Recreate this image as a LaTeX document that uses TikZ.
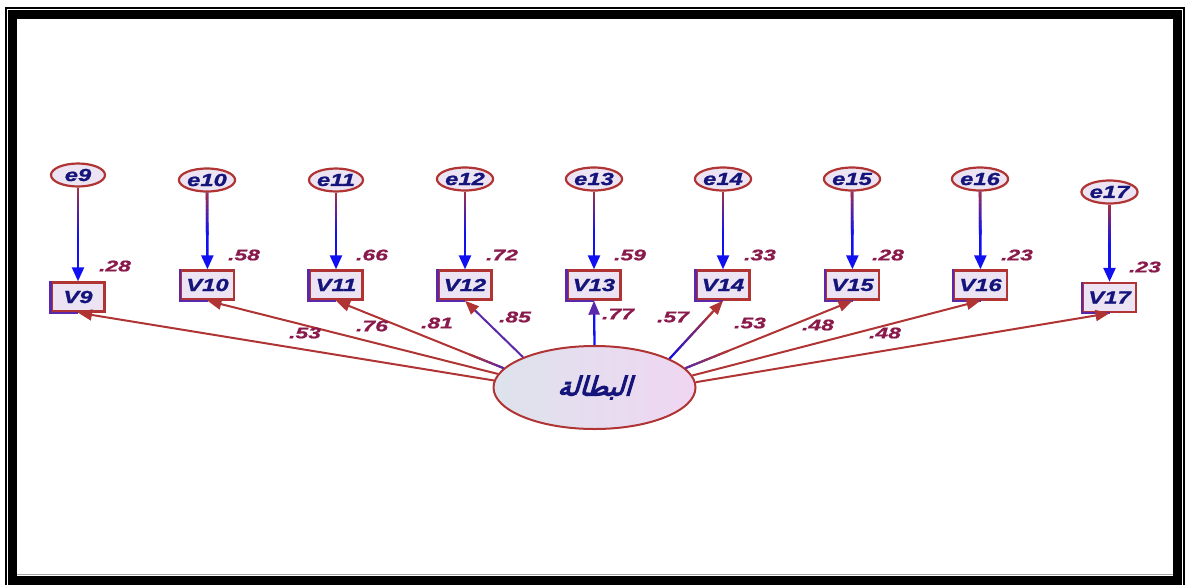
\documentclass[tikz,border=0pt]{standalone}
\usepackage{fontspec}
\usetikzlibrary{arrows.meta,calc,shapes.geometric}
\TeXXeTstate=1
\newfontfamily\labfont{Liberation Sans}[FakeStretch=1.36,FakeBold=1.2]
\newfontfamily\lblfont{Liberation Sans}[FakeStretch=1.48,FakeBold=1]
\newfontfamily\arfont[Script=Arabic,FakeSlant=0.3,FakeBold=4]{DejaVu Sans}
\definecolor{bred}{HTML}{B03434}
\definecolor{navy}{HTML}{14147A}
\definecolor{labc}{HTML}{8A1A4C}
\definecolor{lav}{HTML}{ECE3F3}
\definecolor{arblue}{HTML}{1010F0}
\definecolor{mar}{HTML}{A0304A}
\definecolor{purp}{HTML}{5A28A8}
\definecolor{fleft}{HTML}{DDE3EC}
\definecolor{fright}{HTML}{F0D6F2}
\newcommand\gradseg[6]{%
  \foreach \k in {0,...,9}{%
    \pgfmathsetmacro\pa{\k*#5/10}%
    \pgfmathsetmacro\pb{(\k+1)*#5/10+0.004}%
    \pgfmathsetmacro\pc{100-\k*100/9}%
    \draw[line width=#6,color=#3!\pc!#4] ($(#1)!\pa!(#2)$) -- ($(#1)!\pb!(#2)$);
  }}
\tikzset{
  txt/.style={font=\labfont\bfseries\itshape\fontsize{17.5}{17.5}\selectfont, text=navy},
  errnode/.style={ellipse, draw=bred, line width=2.2pt, fill=lav, minimum width=54pt, minimum height=23pt, inner sep=0pt, txt},
  obsnode/.style={rectangle, draw=bred, line width=2.4pt, fill=lav, minimum width=53pt, minimum height=29pt, inner sep=0pt, txt},
  lbl/.style={font=\lblfont\bfseries\itshape\fontsize{15.5}{15.5}\selectfont, text=labc, inner sep=0pt},
  errarrow/.style={draw=arblue, line width=2.5pt, -{Triangle[length=14pt,width=12pt,color=arblue]}},
  loadarrow/.style={draw=bred, line width=2pt, -{Triangle[length=14pt,width=11pt,color=bred]}},
}
\begin{document}
\begin{tikzpicture}[x=1pt,y=-1pt]
\useasboundingbox (0,0) rectangle (1190,584);
\fill[white] (0,0) rectangle (1190,584);
% frame
\draw[line width=2pt] (6,8) rectangle (1184,592);
\draw[line width=9pt] (12,14.5) rectangle (1177,580);
\draw[gray!70, line width=0.8pt] (16.5,574.5) -- (1172.5,574.5);

% latent
\node[ellipse, draw=bred, line width=2pt, left color=fleft, right color=fright, minimum width=202pt, minimum height=83pt, inner sep=0pt] (F) at (594.5,387.5) {\fontsize{26}{26}\selectfont\color{navy}\arfont\beginR البطالة\endR};

% error nodes
\node[errnode] (e9) at (78,175) {e9};
\node[errnode] (e10) at (207,180) {e10};
\node[errnode] (e11) at (336,180) {e11};
\node[errnode] (e12) at (465,179) {e12};
\node[errnode] (e13) at (594,179) {e13};
\node[errnode] (e14) at (723,179) {e14};
\node[errnode] (e15) at (852,179) {e15};
\node[errnode] (e16) at (980,179) {e16};
\node[errnode] (e17) at (1109.5,192) {e17};

% observed nodes
\node[obsnode] (V9) at (78,297) {V9};
\node[obsnode] (V10) at (207.5,285) {V10};
\node[obsnode] (V11) at (336,285) {V11};
\node[obsnode] (V12) at (465,285) {V12};
\node[obsnode] (V13) at (594,285) {V13};
\node[obsnode] (V14) at (723,285) {V14};
\node[obsnode] (V15) at (852.5,285) {V15};
\node[obsnode] (V16) at (980.5,285) {V16};
\node[obsnode] (V17) at (1109.5,297.5) {V17};
\foreach \i in {9,...,17}{
  \draw[purp, line width=2.4pt] (V\i.north west) -- (V\i.south west) -- (V\i.south);
}

% error arrows
\foreach \i in {9,...,17}{
  \draw[errarrow] (e\i) -- (V\i);
  \gradseg{e\i.south}{V\i.north}{mar}{arblue}{0.55}{2.6pt}
}

% loadings
\draw[loadarrow] (F.176.3) -- (V9.south);
\draw[loadarrow] (F.172.6) -- (V10.south);
\draw[loadarrow] (F.168) -- (V11.south);
\gradseg{F.168}{V11.south}{purp}{bred}{0.2}{2.1pt}
\draw[loadarrow, draw=purp] (F.157.7) -- (V12.south);
\draw[line width=2.3pt, -{Triangle[length=14pt,width=11pt,color=purp]}, draw=arblue] (F.90) -- (V13.south);
\draw[loadarrow] (F.21.9) -- (V14.south);
\gradseg{F.21.9}{V14.south}{arblue}{bred}{0.8}{2.1pt}
\draw[loadarrow] (F.12) -- (V15.south);
\gradseg{F.12}{V15.south}{purp}{bred}{0.25}{2.1pt}
\draw[loadarrow] (F.7.4) -- (V16.south);
\draw[loadarrow] (F.3.7) -- (V17.south);

% error labels
\node[lbl] (r9) at (115,266) {.28};
\node[lbl] (r10) at (244,255) {.58};
\node[lbl] (r11) at (372,255) {.66};
\node[lbl] (r12) at (502,255) {.72};
\node[lbl] (r13) at (630,255) {.59};
\node[lbl] (r14) at (760,255) {.33};
\node[lbl] (r15) at (888,255) {.28};
\node[lbl] (r16) at (1017,255) {.23};
\node[lbl] (r17) at (1145,267) {.23};

% loading labels
\node[lbl] (w9) at (305,333) {.53};
\node[lbl] (w10) at (372,326) {.76};
\node[lbl] (w11) at (437,323) {.81};
\node[lbl] (w12) at (515,317) {.85};
\node[lbl] (w13) at (618,314) {.77};
\node[lbl] (w14) at (673,317) {.57};
\node[lbl] (w15) at (750,323) {.53};
\node[lbl] (w16) at (818,325) {.48};
\node[lbl] (w17) at (885,333) {.48};
\end{tikzpicture}
\end{document}
